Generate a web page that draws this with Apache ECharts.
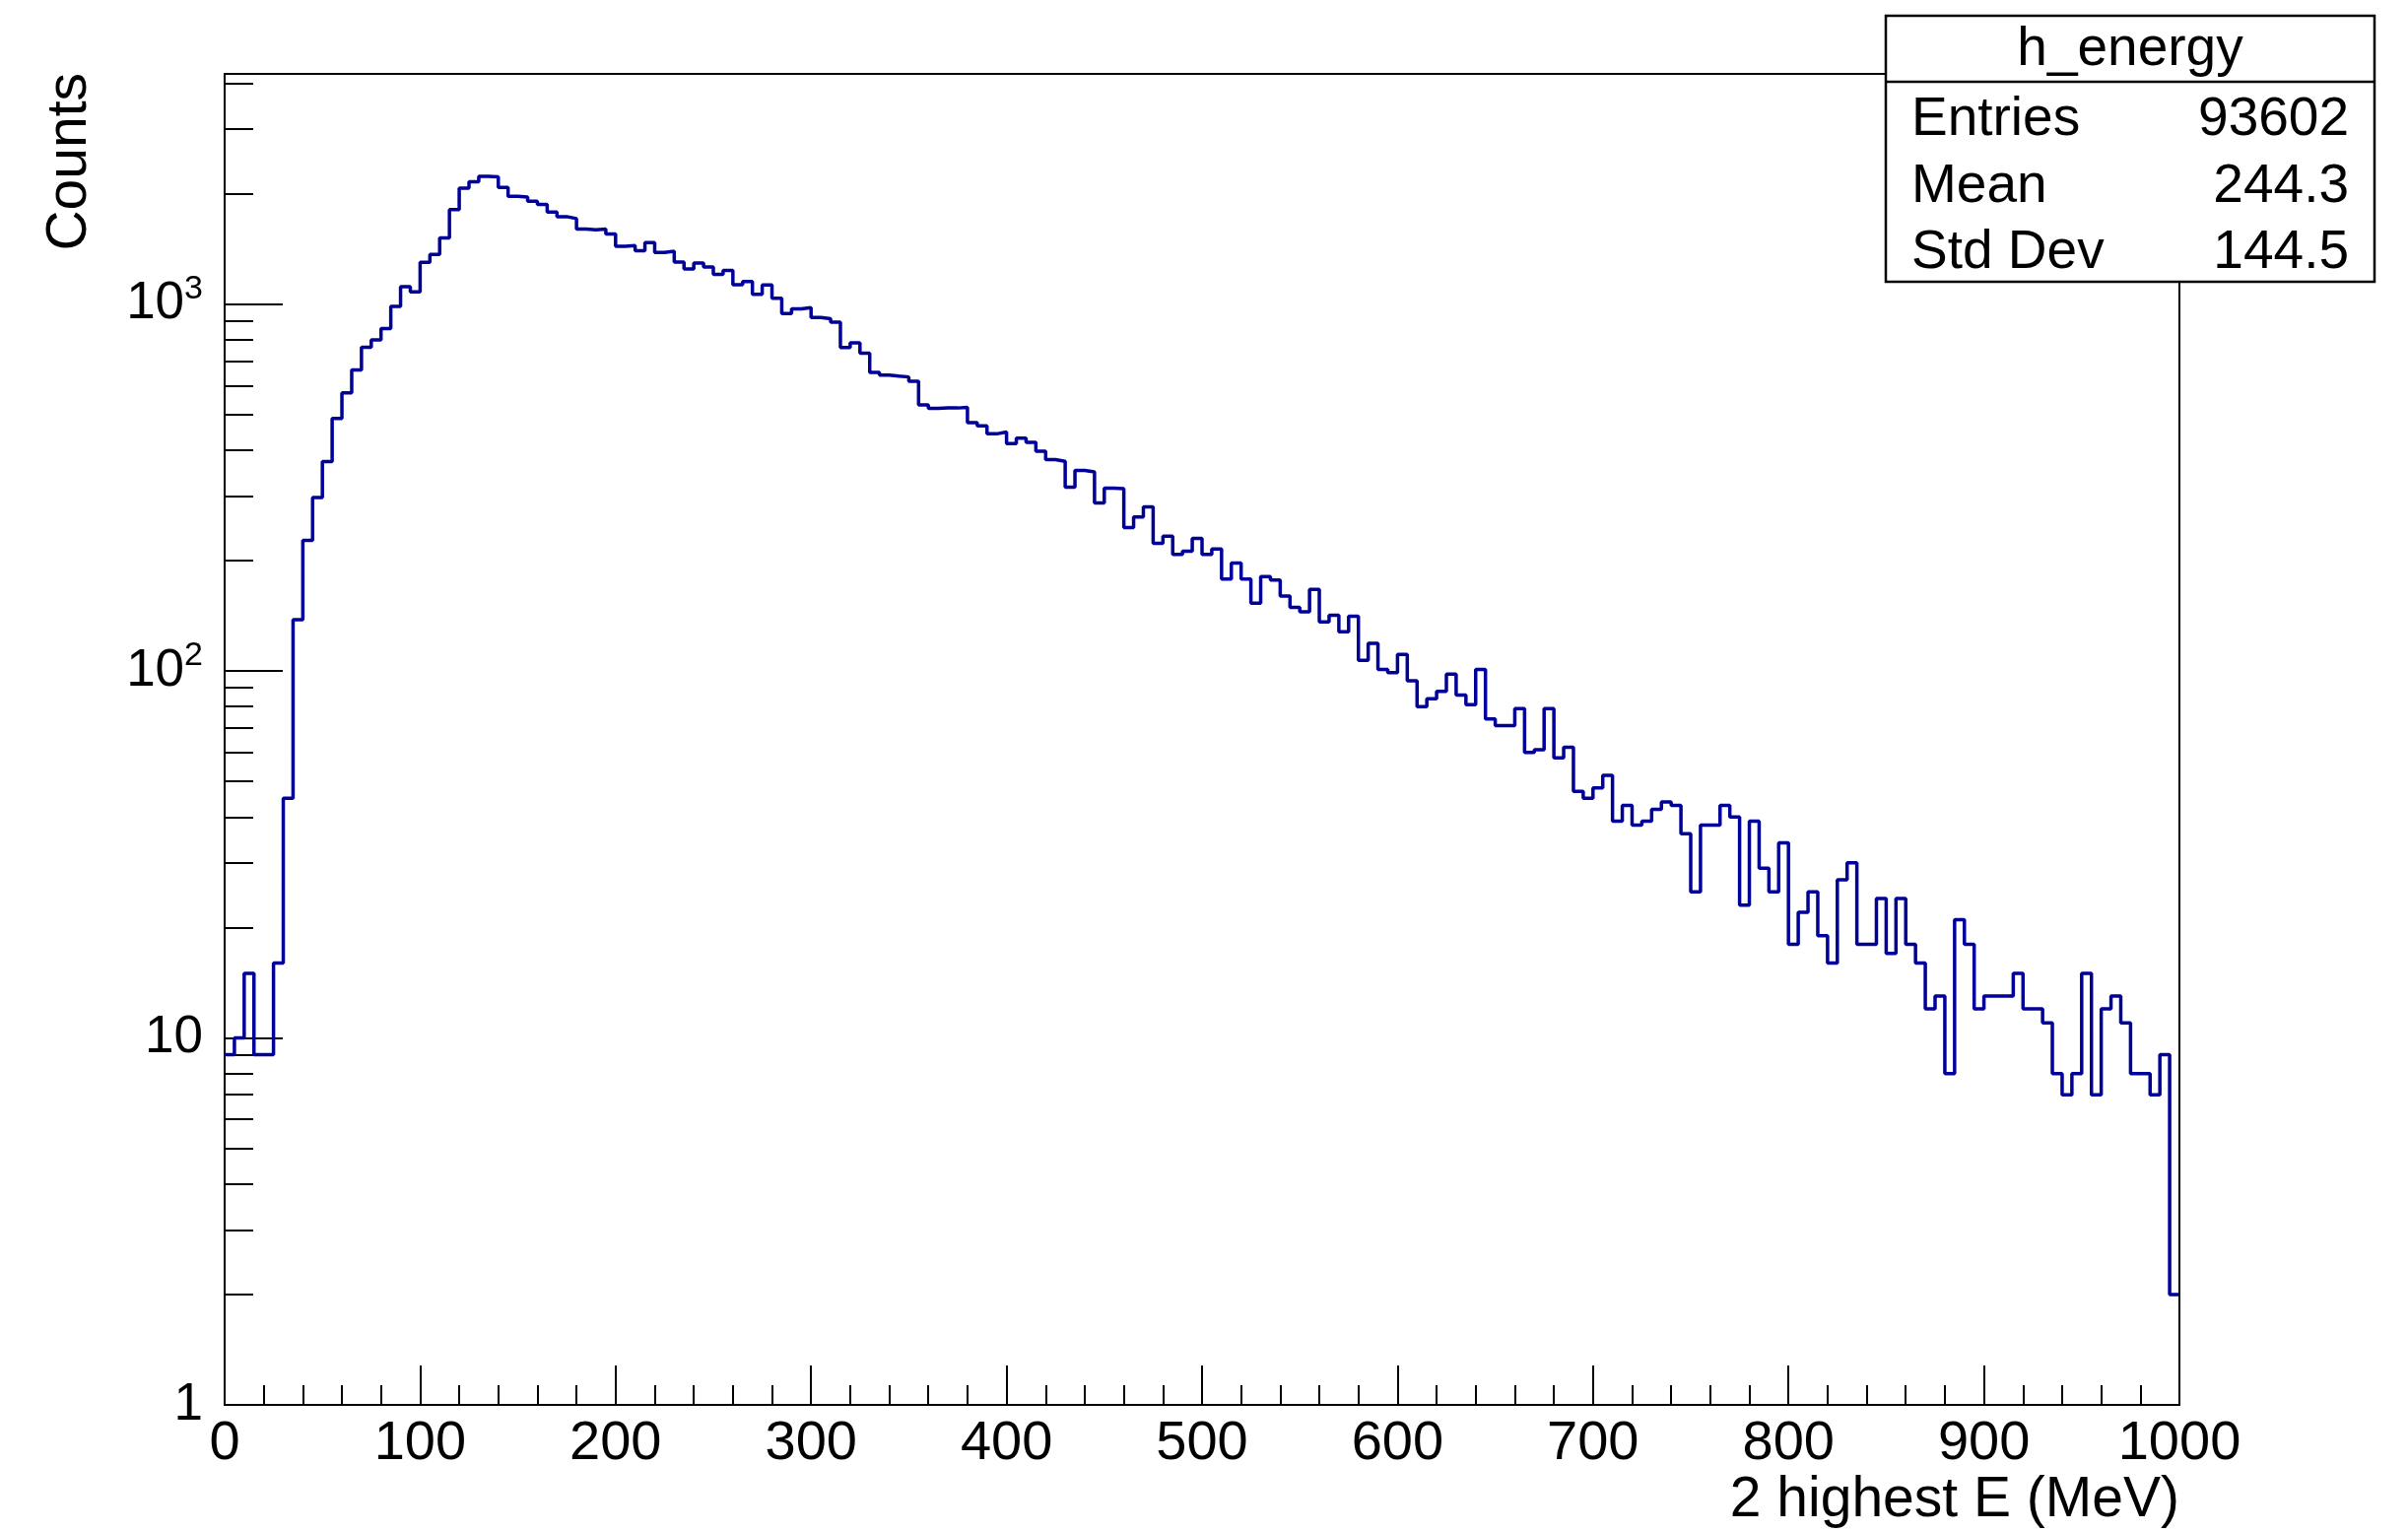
<!DOCTYPE html>
<html>
<head>
<meta charset="utf-8">
<script src="https://cdn.jsdelivr.net/npm/echarts@6/dist/echarts.min.js"></script>
<style>
  html, body { margin: 0; padding: 0; background: #ffffff; }
  #chart { width: 2444px; height: 1554px; }
</style>
</head>
<body>
<div id="chart"></div>
<script>
// Histogram of the two highest energies, 5 MeV bins from 0 to 1000 MeV
const histName = 'h_energy';
const xTitle = '2 highest E (MeV)';
const yTitle = 'Counts';
const xMin = 0;
const xMax = 1000;
const binWidth = 5;

const binCounts = [
  9, 10, 15, 9, 9, 16, 45, 138, 227, 297, 372, 488, 573, 662, 763, 799, 858, 985, 1116, 1080, 1300, 1366, 1514, 1808,
  2071, 2154, 2230, 2222, 2080, 1967, 1958, 1907, 1868, 1781, 1731, 1710, 1601, 1594, 1601, 1552, 1438, 1444, 1398, 1471, 1383, 1394, 1302, 1247, 1294, 1263, 1205,
  1235, 1129, 1153, 1064, 1127, 1038, 942, 970, 978, 919, 912, 893, 762, 784, 735, 651, 640, 636, 633, 616, 531, 520, 521, 521, 523,
  475, 466, 443, 448, 417, 431, 420, 397, 377, 373, 317, 352, 349, 287, 315, 314, 246, 263, 280, 223, 233, 208, 212, 230, 208,
  215, 178, 197, 178, 153, 181, 177, 160, 149, 145, 167, 136, 142, 128, 141, 107, 119, 101, 99, 111, 94, 80, 84, 88, 98,
  86, 81, 101, 74, 71, 71, 79, 60, 61, 79, 58, 62, 47, 45, 48, 52, 39, 43, 38, 39, 42, 44, 43, 36, 25,
  38, 38, 43, 40, 23, 39, 29, 25, 34, 18, 22, 25, 19, 16, 27, 30, 18, 18, 24, 17, 24, 18, 16, 12, 13,
  8, 21, 18, 12, 13, 13, 13, 15, 12, 12, 11, 8, 7, 8, 15, 7, 12, 13, 11, 8, 8, 7, 9, 2
];

const yMin = 1;
const yMax = 4240;
const yMajorTicks = [1, 10, 100, 1000];
const yMinorTicks = [2, 3, 4, 5, 6, 7, 8, 9, 20, 30, 40, 50, 60, 70, 80, 90,
  200, 300, 400, 500, 600, 700, 800, 900, 2000, 3000, 4000];

const statsLabels = ['Entries', 'Mean', 'Std Dev'];
const statsValues = ['93602', '244.3', '144.5'];

const FONT = '"Liberation Sans", Arial, Helvetica, sans-serif';

// step outline: left edge of every bin, plus the closing right edge
const stepData = binCounts.map((c, i) => [xMin + i * binWidth, c]);
stepData.push([xMax, binCounts[binCounts.length - 1]]);

const chart = echarts.init(document.getElementById('chart'), null, { renderer: 'canvas' });

const logLabel = (v) => {
  const e = Math.round(Math.log10(v));
  if (e <= 1) return '{b|' + v + '}';
  return '{b|10}{s|' + e + '}';
};

const statsRowY = [122, 190, 257];

const option = {
  animation: false,
  backgroundColor: '#ffffff',
  grid: {
    left: 228, right: 232, top: 75, bottom: 128,
    show: true, borderColor: '#000000', borderWidth: 2, backgroundColor: 'transparent'
  },
  xAxis: {
    type: 'value', min: xMin, max: xMax, interval: 100,
    axisLine: { show: true, onZero: false, lineStyle: { color: '#000', width: 2 } },
    axisTick: { show: true, inside: true, length: 40, lineStyle: { color: '#000', width: 2 } },
    minorTick: { show: true, splitNumber: 5, length: 20, lineStyle: { color: '#000', width: 2 } },
    axisLabel: { color: '#000', fontFamily: FONT, fontSize: 56, margin: 12,
      formatter: (v) => String(v) },
    splitLine: { show: false }, minorSplitLine: { show: false }
  },
  yAxis: [
    {
      type: 'log', logBase: 10, min: yMin, max: yMax, position: 'left',
      axisLine: { show: true, onZero: false, lineStyle: { color: '#000', width: 2 } },
      axisTick: { show: true, inside: true, length: 59, customValues: yMajorTicks,
        lineStyle: { color: '#000', width: 2 } },
      axisLabel: {
        customValues: yMajorTicks, margin: 22, color: '#000', fontFamily: FONT, fontSize: 52,
        formatter: logLabel,
        rich: {
          b: { fontFamily: FONT, fontSize: 53, lineHeight: 64, color: '#000' },
          s: { fontFamily: FONT, fontSize: 34, verticalAlign: 'top', color: '#000' }
        }
      },
      splitLine: { show: false }
    },
    {
      type: 'log', logBase: 10, min: yMin, max: yMax, position: 'left',
      axisLine: { show: false },
      axisTick: { show: true, inside: true, length: 29, customValues: yMinorTicks,
        lineStyle: { color: '#000', width: 2 } },
      axisLabel: { show: false },
      splitLine: { show: false }
    }
  ],
  series: [{
    name: histName,
    type: 'line',
    xAxisIndex: 0, yAxisIndex: 0,
    data: stepData,
    step: 'end',
    symbol: 'none',
    clip: true,
    lineStyle: { color: '#000099', width: 3.5 }
  }],
  graphic: [
    {
      type: 'text', x: 71, y: 74, rotation: Math.PI / 2, z: 10,
      style: { text: yTitle, font: '57px ' + FONT, fill: '#000',
        align: 'right', verticalAlign: 'middle', textAlign: 'right', textVerticalAlign: 'middle' }
    },
    {
      type: 'text', x: 2212, y: 1523, z: 10,
      style: { text: xTitle, font: '57px ' + FONT, fill: '#000',
        align: 'right', verticalAlign: 'middle', textAlign: 'right', textVerticalAlign: 'middle' }
    },
    {
      type: 'group', z: 20,
      children: [
        { type: 'rect', shape: { x: 1914, y: 16, width: 496, height: 270 },
          style: { fill: '#ffffff', stroke: '#000', lineWidth: 2.5 } },
        { type: 'line', shape: { x1: 1914, y1: 83, x2: 2410, y2: 83 },
          style: { stroke: '#000', lineWidth: 2.5 } },
        { type: 'text', x: 2162, y: 51,
          style: { text: histName, font: '55px ' + FONT, fill: '#000',
            align: 'center', verticalAlign: 'middle', textAlign: 'center', textVerticalAlign: 'middle' } }
      ].concat(statsLabels.map((t, i) => ({
        type: 'text', x: 1940, y: statsRowY[i],
        style: { text: t, font: '55px ' + FONT, fill: '#000',
          align: 'left', verticalAlign: 'middle', textAlign: 'left', textVerticalAlign: 'middle' }
      }))).concat(statsValues.map((t, i) => ({
        type: 'text', x: 2384, y: statsRowY[i],
        style: { text: t, font: '55px ' + FONT, fill: '#000',
          align: 'right', verticalAlign: 'middle', textAlign: 'right', textVerticalAlign: 'middle' }
      })))
    }
  ]
};

chart.setOption(option);
</script>
</body>
</html>
